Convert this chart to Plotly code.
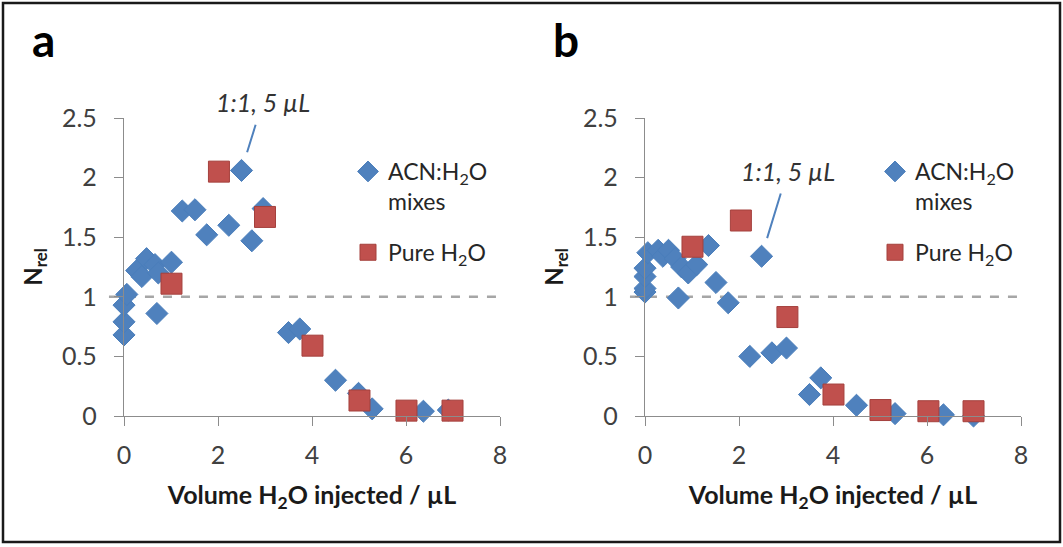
import plotly.graph_objects as go

# Panel a: ACN:H2O mixes
mix_a_x = [0, 0, 0, 0.06, 0.27, 0.38, 0.48, 0.66, 0.73, 1.01, 0.70,
           1.24, 1.51, 1.76, 2.23, 2.50, 2.72, 2.96,
           3.50, 3.74, 4.50, 4.99, 5.28, 6.37, 6.90]
mix_a_y = [0.68, 0.79, 0.93, 1.02, 1.22, 1.17, 1.32, 1.27, 1.20, 1.29, 0.86,
           1.72, 1.73, 1.52, 1.60, 2.06, 1.47, 1.74,
           0.70, 0.73, 0.30, 0.19, 0.06, 0.04, 0.05]
# Panel a: pure H2O
pure_a_x = [1.01, 2.02, 3.00, 4.01, 5.01, 6.01, 6.99]
pure_a_y = [1.11, 2.05, 1.67, 0.59, 0.13, 0.045, 0.045]

# Panel b: ACN:H2O mixes
mix_b_x = [0, 0, 0, 0, 0.06, 0.28, 0.38, 0.50, 0.64, 0.78, 0.92, 1.10, 1.35,
           0.71, 1.51, 1.77, 2.23, 2.48, 2.70, 3.01,
           3.50, 3.74, 4.50, 5.32, 6.35, 6.99]
mix_b_y = [1.04, 1.07, 1.17, 1.24, 1.37, 1.39, 1.34, 1.39, 1.32, 1.25, 1.20, 1.27, 1.43,
           0.99, 1.12, 0.95, 0.50, 1.34, 0.53, 0.57,
           0.18, 0.32, 0.09, 0.02, 0.01, 0.00]
# Panel b: pure H2O
pure_b_x = [1.01, 2.04, 3.03, 4.01, 5.01, 6.03, 6.99]
pure_b_y = [1.42, 1.64, 0.83, 0.18, 0.05, 0.04, 0.04]

REF_LEVEL = 1.0
# the "1:1, 5 uL" point in each panel
callout_a = (2.50, 2.06)
callout_b = (2.48, 1.34)

X_TICKS = [0, 2, 4, 6, 8]
Y_TICKS = [0, 0.5, 1, 1.5, 2, 2.5]

W, H = 1063, 547
BLUE = "#4F81BD"
RED = "#C0504D"
AXIS = "#8c8c8c"
FONT = "Lato, 'Open Sans', sans-serif"

fig = go.Figure()

panels = [
    ("x", "y", "legend", mix_a_x, mix_a_y, pure_a_x, pure_a_y, callout_a, (21, -68)),
    ("x2", "y2", "legend2", mix_b_x, mix_b_y, pure_b_x, pure_b_y, callout_b, (26, -85)),
]
for xa, ya, leg, mx, my, px, py, co, off in panels:
    fig.add_trace(go.Scatter(
        x=mx, y=my, mode="markers", name="ACN:H<sub>2</sub>O<br>mixes",
        xaxis=xa, yaxis=ya, legend=leg, legendgroup="mix", cliponaxis=False,
        marker=dict(symbol="diamond", size=17, color=BLUE,
                    line=dict(color="#4A7EBB", width=1)),
    ))
    fig.add_trace(go.Scatter(
        x=px, y=py, mode="markers", name="Pure H<sub>2</sub>O",
        xaxis=xa, yaxis=ya, legend=leg, legendgroup="pure", cliponaxis=False,
        marker=dict(symbol="square", size=21, color=RED,
                    line=dict(color="#A4403D", width=1)),
    ))
    # dashed reference line at N_rel = 1 (runs a bit past both axis ends)
    fig.add_shape(type="line", xref=xa + " domain", yref=ya,
                  x0=-0.04, x1=1.008, y0=REF_LEVEL, y1=REF_LEVEL,
                  line=dict(color="#a6a6a6", width=2.5, dash="dash"), layer="below")
    # callout label
    fig.add_annotation(
        x=co[0], y=co[1], xref=xa, yref=ya, ax=off[0], ay=off[1],
        text="<i>1:1, 5 µL</i>",
        showarrow=True, arrowhead=0, arrowwidth=2, arrowcolor=BLUE,
        standoff=19, startstandoff=6,
        font=dict(family=FONT, size=25, color="#333333"),
    )

axis_common = dict(showgrid=False, zeroline=False, showline=True, linecolor=AXIS,
                   linewidth=1.3, ticks="outside", ticklen=9, tickcolor=AXIS,
                   tickwidth=1.3, tickfont=dict(family=FONT, size=25, color="#404040"))
xtitle = dict(text="<b>Volume H<sub>2</sub>O injected / µL</b>",
              font=dict(family=FONT, size=25, color="#1a1a1a"), standoff=18)
ytitle = dict(text="<b>N<sub>rel</sub></b>",
              font=dict(family=FONT, size=24, color="#1a1a1a"), standoff=12)

legend_common = dict(xanchor="left", yanchor="top", bgcolor="rgba(0,0,0,0)",
                     valign="top", itemwidth=30, tracegroupgap=18,
                     font=dict(family=FONT, size=23, color="#262626"))

y0p, y1p = 1 - 416 / H, 1 - 118 / H
fig.update_layout(
    width=W, height=H, template="none",
    paper_bgcolor="white", plot_bgcolor="white",
    margin=dict(l=0, r=0, t=0, b=0),
    font=dict(family=FONT, color="#262626"),
    xaxis=dict(domain=[124 / W, 500 / W], range=[0, 8], tickvals=X_TICKS,
               anchor="y", title=xtitle, ticklabelstandoff=8, **axis_common),
    yaxis=dict(domain=[y0p, y1p], range=[0, 2.5], tickvals=Y_TICKS,
               anchor="x", title=ytitle, ticklabelstandoff=12, **axis_common),
    xaxis2=dict(domain=[645 / W, 1021 / W], range=[0, 8], tickvals=X_TICKS,
                anchor="y2", title=xtitle, ticklabelstandoff=8, **axis_common),
    yaxis2=dict(domain=[y0p, y1p], range=[0, 2.5], tickvals=Y_TICKS,
                anchor="x2", title=ytitle, ticklabelstandoff=12, **axis_common),
    legend=dict(x=348 / W, y=1 - 150 / H, **legend_common),
    legend2=dict(x=875 / W, y=1 - 150 / H, **legend_common),
    showlegend=True,
)

# panel letters
for label, px in (("a", 43), ("b", 566)):
    fig.add_annotation(x=px / W, y=1 - 40 / H, xref="paper", yref="paper",
                       xanchor="center", yanchor="middle",
                       text=f"<b>{label}</b>", showarrow=False,
                       font=dict(family=FONT, size=46, color="#000000"))

# frame around the whole figure
fig.add_shape(type="rect", xref="paper", yref="paper",
              x0=3 / W, x1=1 - 3 / W, y0=5 / H, y1=1 - 3 / H,
              line=dict(color="#1a1a1a", width=2.5))

fig.write_html("out.html", config={"displayModeBar": False},
               post_script="document.body.style.margin='0';"
                           "document.body.style.overflow='hidden';")
